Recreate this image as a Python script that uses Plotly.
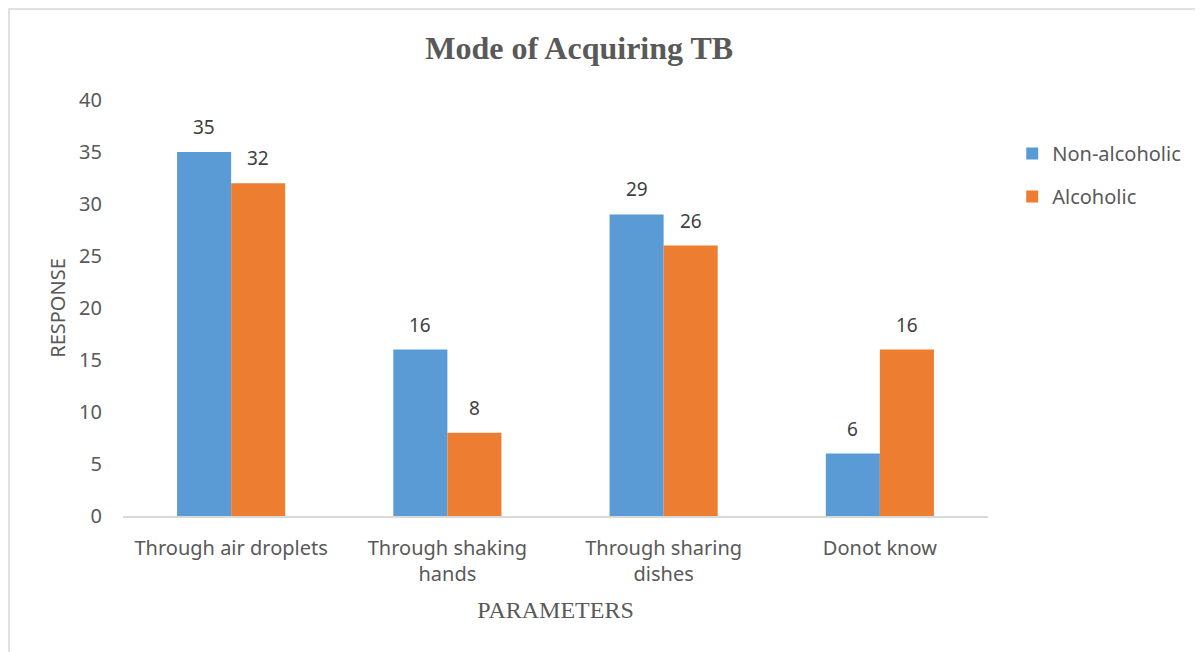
import plotly.graph_objects as go

categories = ["Through air droplets", "Through shaking<br>hands", "Through sharing<br>dishes", "Donot know"]
non_alcoholic = [35, 16, 29, 6]
alcoholic = [32, 8, 26, 16]
y_ticks = [0, 5, 10, 15, 20, 25, 30, 35, 40]

BLUE = "#5B9BD5"
ORANGE = "#ED7D31"
TEXT = "#595959"
SANS = "Noto Sans, Open Sans, sans-serif"
SERIF = "Liberation Serif, Times New Roman, serif"

fig = go.Figure()
fig.add_trace(go.Bar(
    x=categories, y=non_alcoholic, name="Non-alcoholic", legendgroup="a",
    marker=dict(color=BLUE, line=dict(width=0)),
))
fig.add_trace(go.Bar(
    x=categories, y=alcoholic, name="Alcoholic", legendgroup="b",
    marker=dict(color=ORANGE, line=dict(width=0)),
))

# value labels sit a little above each bar, as in the Excel original
for values, shift in ((non_alcoholic, -27), (alcoholic, 27)):
    for cat, val in zip(categories, values):
        fig.add_annotation(x=cat, y=val, text=str(val), showarrow=False,
                           xshift=shift, yshift=10, yanchor="bottom",
                           font=dict(family=SANS, size=19, color="#404040"))

fig.update_layout(
    width=1195, height=644,
    margin=dict(l=115, r=215, t=92, b=136),
    paper_bgcolor="white", plot_bgcolor="white",
    barmode="group", bargap=0.5, bargroupgap=0,
    title=dict(text="<b>Mode of Acquiring TB</b>", x=0.478, xanchor="center", y=0.938, yanchor="middle",
               font=dict(family=SERIF, size=32, color=TEXT)),
    font=dict(family=SANS, color=TEXT),
    legend=dict(x=1.028, y=0.918, xanchor="left", yanchor="top",
                font=dict(family=SANS, size=20, color=TEXT),
                itemwidth=30, tracegroupgap=14, bgcolor="rgba(0,0,0,0)"),
    showlegend=True,
)
fig.update_xaxes(
    showline=True, linecolor="#D9D9D9", linewidth=1.5, showgrid=False, ticks="",
    ticklabelstandoff=13,
    tickfont=dict(family=SANS, size=20, color=TEXT),
    title=dict(text="PARAMETERS", font=dict(family=SERIF, size=24, color=TEXT), standoff=15),
)
fig.update_yaxes(
    range=[0, 40], tickvals=y_ticks, showgrid=False, showline=False, zeroline=False,
    ticks="", ticklen=0, ticklabelstandoff=20,
    tickfont=dict(family=SANS, size=20, color=TEXT),
    title=dict(text="RESPONSE", font=dict(family=SANS, size=20, color=TEXT), standoff=8),
)

# light chart-area border
fig.add_shape(type="rect", xref="paper", yref="paper",
              x0=-0.1318, x1=1.3, y0=-0.4, y1=1.2188,
              line=dict(color="#D9D9D9", width=1.5), fillcolor="rgba(0,0,0,0)", layer="below")

fig.write_html("out.html")
